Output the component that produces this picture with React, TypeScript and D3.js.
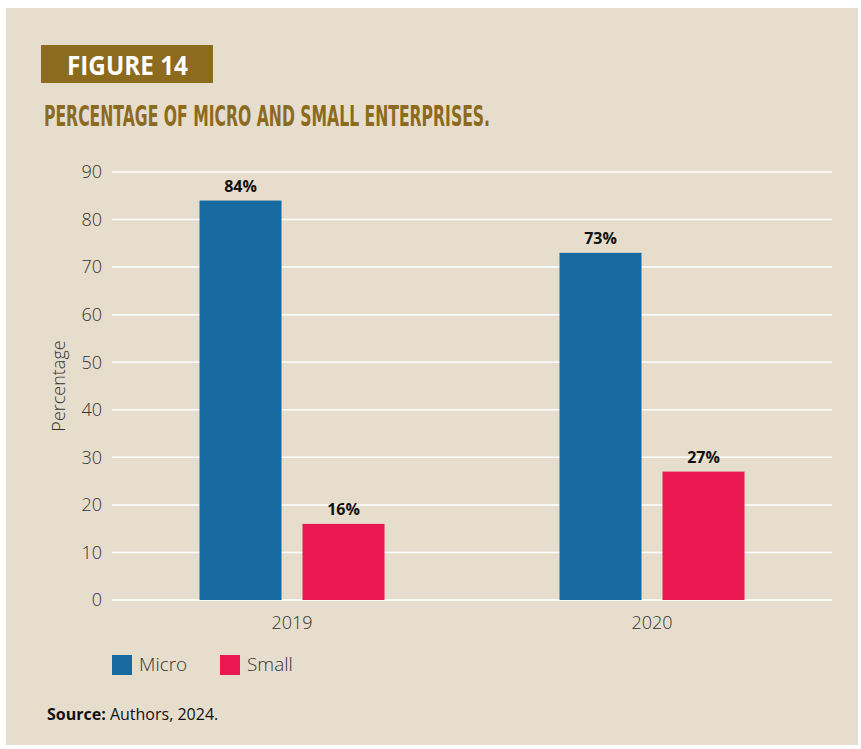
import React from "react";
import * as d3 from "d3";

const categories = ["2019", "2020"];
const seriesNames = ["Micro", "Small"];
const microValues = [84, 73];
const smallValues = [16, 27];
const yTicks = [0, 10, 20, 30, 40, 50, 60, 70, 80, 90];
const colors = ["#176aa0", "#ea1850"];

export default function App() {
  const W = 861, H = 749;
  const left = 112, right = 832, top = 172, bottom = 600;
  const x = d3.scaleBand<string>().domain(categories).range([left, right]);
  const inner = d3.scaleBand<string>().domain(seriesNames).range([0, 185]).paddingInner(0.204);
  const y = d3.scaleLinear().domain([0, 90]).range([bottom, top]);
  const series = [microValues, smallValues];
  const font = "'Open Sans', sans-serif";
  return (
    <svg width={W} height={H} style={{ position: "absolute", left: 0, top: 0 }}>
      <rect x={0} y={0} width={W} height={H} fill="#ffffff" />
      <rect x={6} y={8} width={852} height={737} fill="#e6ddcd" />
      <rect x={41} y={45} width={172} height={38} fill="#8c6a1e" />
      <text x={67} y={75} fill="#ffffff" fontFamily={font} fontWeight={700} fontSize={26}
        textLength={121} lengthAdjust="spacingAndGlyphs">FIGURE 14</text>
      <text x={44} y={126} fill="#8c6a1e" fontFamily="'DejaVu Sans', sans-serif" fontWeight={700} fontSize={28}
        textLength={446} lengthAdjust="spacingAndGlyphs">PERCENTAGE OF MICRO AND SMALL ENTERPRISES.</text>
      {yTicks.map((t) => (
        <g key={t}>
          <line x1={left} x2={right} y1={y(t)} y2={y(t)} stroke="#ffffff" strokeWidth={1.5} />
          <text x={102} y={y(t)} dy="0.35em" textAnchor="end" fontFamily={font} fontWeight={300} fontSize={18} fill="#333">{t}</text>
        </g>
      ))}
      <text transform={`translate(65,${y(45)}) rotate(-90)`} textAnchor="middle" fontFamily={font} fontWeight={300} fontSize={18} fill="#333">Percentage</text>
      {categories.map((c, i) => {
        const cx = (x(c) as number) + x.bandwidth() / 2;
        const g0 = cx - 92.5;
        return (
          <g key={c}>
            {seriesNames.map((s, j) => {
              const v = series[j][i];
              const bx = g0 + (inner(s) as number);
              return (
                <g key={s}>
                  <rect x={bx} y={y(v)} width={inner.bandwidth()} height={bottom - y(v)} fill={colors[j]} />
                  <text x={bx + inner.bandwidth() / 2} y={y(v) - 9} textAnchor="middle" fontFamily={font} fontWeight={700} fontSize={16} fill="#111">{v}%</text>
                </g>
              );
            })}
            <text x={cx} y={629} textAnchor="middle" fontFamily={font} fontWeight={300} fontSize={18} fill="#333">{c}</text>
          </g>
        );
      })}
      {seriesNames.map((s, j) => {
        const lx = [112, 220][j];
        return (
          <g key={s}>
            <rect x={lx} y={655} width={20} height={20} fill={colors[j]} />
            <text x={lx + 27} y={671} fontFamily={font} fontWeight={300} fontSize={19} fill="#333">{s}</text>
          </g>
        );
      })}
      <text x={47} y={720} fontFamily={font} fontSize={16} fill="#111">
        <tspan fontWeight={700}>Source:</tspan> Authors, 2024.
      </text>
    </svg>
  );
}
